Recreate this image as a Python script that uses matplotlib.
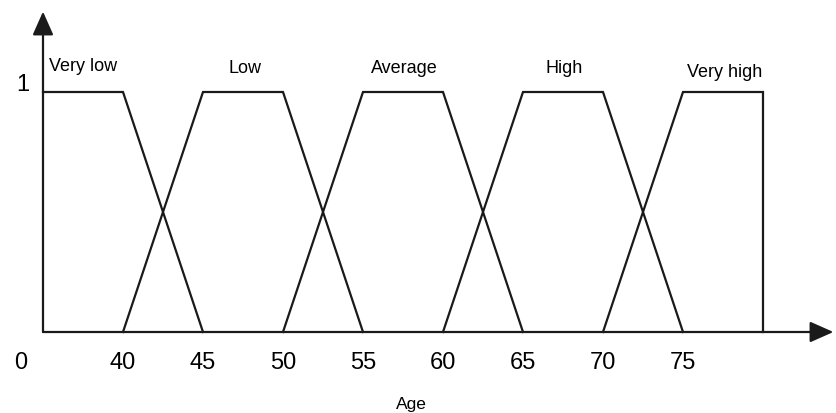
import matplotlib.pyplot as plt

plt.rcParams['font.family'] = ['Liberation Sans', 'DejaVu Sans']

# membership function breakpoints (age, degree); 35 stands in for the origin "0"
labels = ['Very low', 'Low', 'Average', 'High', 'Very high']
xs = [
    [35, 40, 45],
    [40, 45, 50, 55],
    [50, 55, 60, 65],
    [60, 65, 70, 75],
    [70, 75, 80, 80],
]
ys = [
    [1, 1, 0],
    [0, 1, 1, 0],
    [0, 1, 1, 0],
    [0, 1, 1, 0],
    [0, 1, 1, 0],
]
label_x = [37.5, 47.6, 57.6, 67.6, 77.6]
label_y = [1.11, 1.10, 1.10, 1.10, 1.085]

tick_pos = [33.6, 40, 45, 50, 55, 60, 65, 70, 75]
tick_text = ['0', '40', '45', '50', '55', '60', '65', '70', '75']

fig = plt.figure(figsize=(8.36, 4.14), dpi=100)
ax = fig.add_axes([0, 0, 1, 1])
ax.set_xlim(32.3125, 84.5625)
ax.set_ylim(-0.3375, 1.3875)
ax.axis('off')

col = '#1a1a1a'
for x, y in zip(xs, ys):
    ax.plot(x, y, color=col, lw=1.6, solid_joinstyle='miter')

# axes with arrows
arrow = dict(arrowstyle='-|>,head_length=0.72,head_width=0.32',
             mutation_scale=20, color=col, lw=1.6, shrinkA=0, shrinkB=0)
ax.annotate('', xy=(84.4, 0), xytext=(35, 0), arrowprops=arrow)
ax.annotate('', xy=(35, 1.335), xytext=(35, 0), arrowprops=arrow)

for lab, lx, ly in zip(labels, label_x, label_y):
    ax.text(lx, ly, lab, ha='center', va='center', fontsize=13, color='black')

for p, t in zip(tick_pos, tick_text):
    ax.text(p, -0.125, t, ha='center', va='center', fontsize=17, color='black')

ax.text(33.75, 1.035, '1', ha='center', va='center', fontsize=17, color='black')
ax.text(58.0, -0.3, 'Age', ha='center', va='center', fontsize=12.5, color='black')

fig.savefig('out.png', dpi=100)
